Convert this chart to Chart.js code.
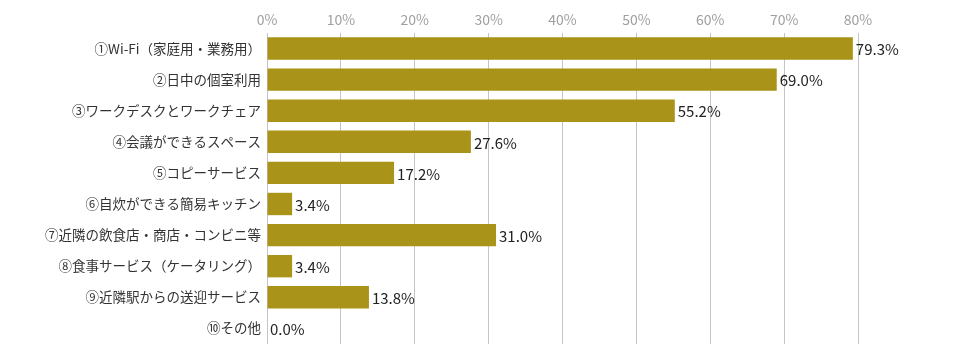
<!DOCTYPE html>
<html>
<head>
<meta charset="utf-8">
<script src="https://cdn.jsdelivr.net/npm/chart.js@4"></script>
<style>
  html, body { margin: 0; padding: 0; background: #fff; }
  #wrap { width: 960px; height: 350px; }
</style>
</head>
<body>
<div id="wrap"><canvas id="myChart" width="960" height="350"></canvas></div>
<script>
// data
const categories = [
    '①Wi-Fi（家庭用・業務用）',
    '②日中の個室利用',
    '③ワークデスクとワークチェア',
    '④会議ができるスペース',
    '⑤コピーサービス',
    '⑥自炊ができる簡易キッチン',
    '⑦近隣の飲食店・商店・コンビニ等',
    '⑧食事サービス（ケータリング）',
    '⑨近隣駅からの送迎サービス',
    '⑩その他'
];
const percentValues = [79.3, 69.0, 55.2, 27.6, 17.2, 3.4, 31.0, 3.4, 13.8, 0.0];
const tickValues = [0, 10, 20, 30, 40, 50, 60, 70, 80];

const fontFamily = '"Noto Sans CJK JP", "Noto Sans", sans-serif';

// draws the value at the end of each bar
const valueLabels = {
    id: 'valueLabels',
    afterDatasetsDraw(chart) {
        const ctx = chart.ctx;
        const meta = chart.getDatasetMeta(0);
        ctx.save();
        ctx.font = '15px ' + fontFamily;
        ctx.fillStyle = '#222';
        ctx.textAlign = 'left';
        ctx.textBaseline = 'middle';
        meta.data.forEach((bar, i) => {
            ctx.fillText(percentValues[i].toFixed(1) + '%', bar.x + 3, bar.y + 1);
        });
        ctx.restore();
    }
};

const ctx = document.getElementById('myChart').getContext('2d');
const myChart = new Chart(ctx, {
    type: 'bar',
    data: {
        labels: categories,
        datasets: [{
            data: percentValues,
            backgroundColor: '#A99318',
            borderWidth: 0,
            barPercentage: 0.72,
            categoryPercentage: 1.0
        }]
    },
    options: {
        indexAxis: 'y',
        responsive: false,
        animation: false,
        layout: { padding: { left: 0, right: 102, top: 0, bottom: 5 } },
        plugins: {
            legend: { display: false },
            tooltip: { enabled: false }
        },
        scales: {
            x: {
                position: 'top',
                min: 0,
                max: 80,
                afterBuildTicks: (scale) => {
                    scale.ticks = tickValues.map(v => ({ value: v }));
                },
                afterFit: (scale) => { scale.height = 33; },
                ticks: {
                    callback: (v) => v + '%',
                    color: '#a0a0a0',
                    font: { family: fontFamily, size: 14 },
                    padding: 5,
                    maxRotation: 0
                },
                grid: { color: '#c4c4c4', drawTicks: false, lineWidth: 1 },
                border: { display: false }
            },
            y: {
                afterFit: (scale) => { scale.width = 267; },
                ticks: {
                    color: '#333',
                    font: { family: fontFamily, size: 13.5 },
                    padding: -2
                },
                grid: { display: false },
                border: { display: false }
            }
        }
    },
    plugins: [valueLabels]
});
</script>
</body>
</html>
